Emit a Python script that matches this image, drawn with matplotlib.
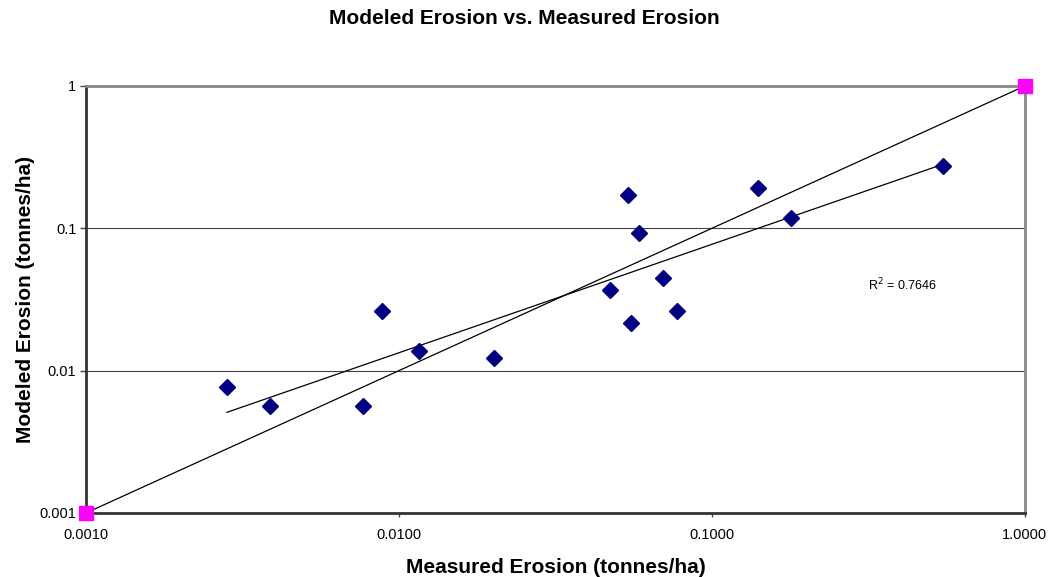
import numpy as np
import matplotlib
matplotlib.use('Agg')
import matplotlib.pyplot as plt

plt.rcParams['font.family'] = ['Liberation Sans', 'DejaVu Sans']

# measured vs modeled erosion (tonnes/ha)
measured = [0.00282, 0.00387, 0.00767, 0.00884, 0.0116, 0.0201, 0.0472, 0.0539,
            0.0552, 0.0585, 0.0697, 0.0773, 0.140, 0.179, 0.547]
modeled = [0.00767, 0.00564, 0.00564, 0.0262, 0.0137, 0.0123, 0.0368, 0.171,
           0.0216, 0.0927, 0.0448, 0.0262, 0.192, 0.118, 0.274]
one_to_one = [0.001, 1.0]
x_ticks = [0.001, 0.01, 0.1, 1.0]
x_labels = ['0.0010', '0.0100', '0.1000', '1.0000']
y_ticks = [0.001, 0.01, 0.1, 1.0]
y_labels = ['0.001', '0.01', '0.1', '1']
r2_text = 'R$^2$ = 0.7646'

fig = plt.figure(figsize=(10.49, 5.77), dpi=100)
ax = fig.add_axes([0.082, 0.111, 0.895, 0.740])

ax.set_xscale('log')
ax.set_yscale('log')
ax.set_xlim(0.001, 1.0)
ax.set_ylim(0.001, 1.0)

# horizontal gridlines only
for yv in y_ticks[1:-1]:
    ax.axhline(yv, color='#444444', lw=0.8, zorder=1)

# 1:1 line
ax.plot(one_to_one, one_to_one, color='black', lw=0.9, zorder=2)
ax.plot(one_to_one, one_to_one, 's', color='#ff00ff', ms=10, clip_on=False, zorder=5)

# power trendline
lx = np.log10(measured)
ly = np.log10(modeled)
b, a = np.polyfit(lx, ly, 1)
xs = np.array([min(measured), max(measured)])
ax.plot(xs, 10 ** (a + b * np.log10(xs)), color='black', lw=0.9, zorder=2)

ax.plot(measured, modeled, 'D', color='#000080', ms=8, zorder=4, clip_on=False)

ax.text(0.833, 0.534, r2_text, transform=ax.transAxes, fontsize=9, va='center')

ax.set_xticks(x_ticks)
ax.set_xticklabels(x_labels, fontsize=10.5)
ax.set_yticks(y_ticks)
ax.set_yticklabels(y_labels, fontsize=10.5)
ax.minorticks_off()
ax.tick_params(axis='both', direction='out', width=1, color='#444444')
ax.tick_params(axis='x', length=3, pad=8)
ax.tick_params(axis='y', length=4, pad=3)

for side in ['left', 'bottom']:
    ax.spines[side].set_color('#333333')
    ax.spines[side].set_linewidth(2)
for side in ['top', 'right']:
    ax.spines[side].set_color('#888888')
    ax.spines[side].set_linewidth(2)

ax.set_xlabel('Measured Erosion (tonnes/ha)', fontsize=15, fontweight='bold', labelpad=11)
ax.set_ylabel('Modeled Erosion (tonnes/ha)', fontsize=15, fontweight='bold', labelpad=3)
fig.suptitle('Modeled Erosion vs. Measured Erosion', fontsize=15, fontweight='bold', y=0.985)

fig.savefig('out.png', dpi=100)
